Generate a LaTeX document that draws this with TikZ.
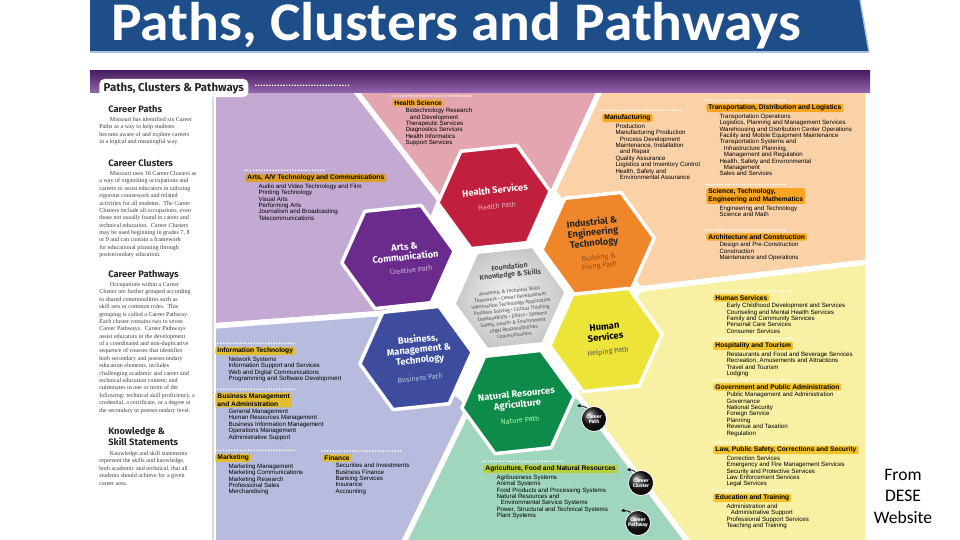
\documentclass[tikz,border=0pt]{standalone}
\usepackage{fontspec}
\setmainfont{Liberation Sans}
\newfontfamily\bannerfont{Carlito}
\newfontfamily\headfont{Fira Sans}
\newfontfamily\bodyserif{Liberation Serif}
\usetikzlibrary{positioning,arrows.meta,shapes.geometric,calc}

\definecolor{titleblue}{HTML}{1D4E89}
\definecolor{titleedge}{HTML}{A9C1E0}
\definecolor{hdrdark}{HTML}{4A1E62}
\definecolor{hdrpurple}{HTML}{9466AE}
\definecolor{lavender}{HTML}{C4AAD3}
\definecolor{rose}{HTML}{E3A5AF}
\definecolor{peach}{HTML}{FBD2A8}
\definecolor{lemon}{HTML}{F8F0A2}
\definecolor{mint}{HTML}{9FD6BD}
\definecolor{periwinkle}{HTML}{B7BBDD}
\definecolor{hexhealth}{HTML}{C01F3D}
\definecolor{hexindustry}{HTML}{F0862A}
\definecolor{hexarts}{HTML}{6A2B8D}
\definecolor{hexbusiness}{HTML}{3E4C9E}
\definecolor{hexhuman}{HTML}{EDE43A}
\definecolor{hexnature}{HTML}{0E8B4A}
\definecolor{tabgold}{HTML}{D9A02B}
\definecolor{tabrose}{HTML}{F0A935}
\definecolor{taborange}{HTML}{F6A623}
\definecolor{tabyellow}{HTML}{F3C32A}
\definecolor{tabblue}{HTML}{E3BD30}
\definecolor{tabgreen}{HTML}{B9CF3B}

\newcommand{\pwind}{\hspace*{2.5pt}}
\newcommand{\parind}{\hspace*{6pt}}

\tikzset{
  field/.style={fill=#1, draw=white, line width=1.1mm},
  hexcell/.style={regular polygon, regular polygon sides=6, minimum size=2.26cm, inner sep=0pt,
                  draw=white, line width=0.7mm, shape border rotate=6, fill=#1},
  hextitle/.style={align=center, rotate=6, inner sep=0pt, font=\headfont\bfseries\fontsize{5.3}{5.9}\selectfont},
  pathnote/.style={align=center, rotate=6, inner sep=0pt, text=#1, font=\headfont\fontsize{4.1}{4.8}\selectfont},
  cluster/.style={fill=#1, anchor=west, rounded corners=0.8pt, inner xsep=1.2pt, inner ysep=0.6pt,
                  align=left, font=\bfseries\fontsize{3.8}{4.3}\selectfont},
  pwlist/.style={anchor=north west, align=left, inner sep=0pt, font=\fontsize{3.5}{3.64}\selectfont},
  dotrow/.style={white, line width=1pt, dash pattern=on 0pt off 1.6pt, line cap=round},
  colhead/.style={anchor=north west, align=left, inner sep=0pt, text=black!85,
                  font=\headfont\bfseries\fontsize{5.3}{5.4}\selectfont},
  colbody/.style={anchor=north west, align=left, inner sep=0pt, text=black!75,
                  font=\bodyserif\fontsize{3.45}{4.2}\selectfont},
  cmark/.style={circle, minimum size=0.5cm, inner sep=0pt, ball color=black!90, draw=white, line width=0.4pt,
                text=white, align=center, font=\headfont\bfseries\fontsize{2.9}{3.1}\selectfont},
  cmarrow/.style={-{Stealth[length=2.2pt,width=2pt]}, line width=0.45pt, black}
}

\begin{document}
\begin{tikzpicture}[x=0.02cm, y=-0.02cm, line join=round]
\useasboundingbox (0,0) rectangle (960,540);
\fill[white] (0,0) rectangle (960,540);

% banner
\fill[titleblue] (90,0) -- (860,0) -- (869,52) -- (90,52) -- cycle;
\draw[titleedge, line width=0.8pt] (860,0) -- (869,52);
\draw[titleedge, line width=0.8pt] (90,52) -- (869,52);
\node[anchor=base west, inner sep=0pt, text=white, font=\bannerfont\bfseries\fontsize{31}{32}\selectfont] (banner) at (111,41) {\scalebox{1.055}[1]{Paths, Clusters and Pathways}};

% colour fields
\path[field=lavender] (213,86) -- (352,86) -- (440,200) -- (400,300) -- (388,313) -- (213,326) -- cycle;
\path[field=rose] (352,86) -- (602,86) -- (553,192) -- (520,240) -- (440,200) -- cycle;
\path[field=peach] (602,86) -- (868,86) -- (868,262) -- (640,289) -- (600,245) -- (553,192) -- cycle;
\path[field=lemon] (640,289) -- (868,262) -- (868,546) -- (691,546) -- (575,392) -- (600,340) -- cycle;
\path[field=mint] (470,405) -- (520,400) -- (575,392) -- (691,546) -- (402,546) -- cycle;
\path[field=periwinkle] (213,326) -- (388,313) -- (416,358) -- (470,405) -- (402,546) -- (213,546) -- cycle;

% header band and left column
\shade[top color=hdrdark, bottom color=hdrpurple] (90,71) rectangle (870,93);
\fill[white] (90,93) rectangle (212,540);
\draw[black!15, line width=0.6pt] (213,93) -- (213,540);
\node[fill=white, rounded corners=3pt, anchor=west, inner xsep=2.5pt, inner ysep=2pt, text=black!85,
      font=\headfont\bfseries\fontsize{6.5}{6.6}\selectfont] (tab) at (99,88) {Paths, Clusters \& Pathways};
\draw[dotrow] ([xshift=4pt, yshift=1.5pt]tab.east) -- ++(95,0);

% left column
\node[colhead] (hpaths) at (108,105) {Career Paths};
\node[colbody] (bpaths) at (99,117) {\parind Missouri has identified six Career\\Paths as a way to help students\\become aware of and explore careers\\in a logical and meaningful way.};
\node[colhead] (hclusters) at (108,159) {Career Clusters};
\node[colbody] (bclusters) at (99,171) {\parind Missouri uses 16 Career Clusters as\\a way of organizing occupations and\\careers to assist educators in tailoring\\rigorous coursework and related\\activities for all students.\ \ The Career\\Clusters include all occupations, even\\those not usually found in career and\\technical education.\ \ Career Clusters\\may be used beginning in grades 7, 8\\or 9 and can contain a framework\\for educational planning through\\postsecondary education.};
\node[colhead] (hpathways) at (108,270) {Career Pathways};
\node[colbody] (bpathways) at (99,282) {\parind Occupations within a Career\\Cluster are further grouped according\\to shared commonalities such as\\skill sets or common roles.\ \ This\\grouping is called a Career Pathway.\\Each cluster contains two to seven\\Career Pathways.\ \ Career Pathways\\assist educators in the development\\of a coordinated and non-duplicative\\sequence of courses that identifies\\both secondary and postsecondary\\education elements, includes\\challenging academic and career and\\technical education content; and\\culminates in one or more of the\\following: technical skill proficiency, a\\credential, a certificate, or a degree at\\the secondary or postsecondary level.};
\node[colhead] (hknow) at (108,427) {Knowledge \&\\Skill Statements};
\node[colbody] (bknow) at (99,451) {\parind Knowledge and skill statements\\represent the skills and knowledge,\\both academic and technical, that all\\students should achieve for a given\\career area.};

% honeycomb
\node[hexcell=hexhealth] (health) at (494,197) {};
\node[hexcell=hexindustry] (industry) at (598,244) {};
\node[hexcell=hexarts] (arts) at (398,257) {};
\node[hexcell=hexbusiness] (business) at (416,358) {};
\node[hexcell=hexhuman] (human) at (606,340) {};
\node[hexcell=hexnature] (nature) at (518,402) {};
\node[hexcell=white, inner color=gray!8, outer color=gray!45] (foundation) at (510,298) {};

\node[hextitle, text=white] (healthtitle) at (495,190) {Health Services};
\node[pathnote=hexhealth!35!white] (healthpath) at (497,206) {Health Path};
\node[hextitle, text=black!85] (industrytitle) at (593,233) {Industrial \&\\Engineering\\Technology};
\node[pathnote=hexindustry!60!black] (industrypath) at (599,262) {Building \&\\Fixing Path};
\node[hextitle, text=white] (artstitle) at (405,252) {Arts \&\\Communication};
\node[pathnote=hexarts!35!white] (artspath) at (411,270) {Creative Path};
\node[hextitle, text=white] (businesstitle) at (419,350) {Business,\\Management \&\\Technology};
\node[pathnote=hexbusiness!35!white] (businesspath) at (420,378) {Business Path};
\node[hextitle, text=black] (humantitle) at (605,332) {Human\\Services};
\node[pathnote=black!65] (humanpath) at (608,352) {Helping Path};
\node[hextitle, text=white] (naturetitle) at (517,400) {Natural Resources\\Agriculture};
\node[pathnote=green!35!white] (naturepath) at (520,420) {Nature Path};
\node[hextitle, text=black!70, font=\headfont\bfseries\fontsize{4}{4.4}\selectfont] (foundationtitle) at (510,271) {Foundation\\Knowledge \& Skills};
\node[hextitle, text=black!70, font=\headfont\fontsize{2.8}{3.6}\selectfont] (foundationskills) at (512,313) {Academic \& Technical Skills\\Teamwork \textbullet{} Career Development\\Information Technology Application\\Problem Solving \textbullet{} Critical Thinking\\Employability \textbullet{} Ethics \textbullet{} Systems\\Safety, Health \& Environment\\Legal Responsibilities\\Communication};

% clusters and pathways
\node[cluster=tabrose] (lblhealthsci) at (392,103) {Health Science};
\draw[dotrow] ([yshift=1.8pt]lblhealthsci.north west) -- ++(80,0);
\node[pwlist, below right=0.6pt and 7.5pt of lblhealthsci.south west] (pwhealthsci) {Biotechnology Research\\\pwind and Development\\Therapeutic Services\\Diagnostics Services\\Health Informatics\\Support Services};

\node[cluster=taborange] (lblmanuf) at (602,118) {Manufacturing};
\draw[dotrow] ([yshift=1.8pt]lblmanuf.north west) -- ++(80,0);
\node[pwlist, below right=0.6pt and 7.5pt of lblmanuf.south west] (pwmanuf) {Production\\Manufacturing Production\\\pwind Process Development\\Maintenance, Installation\\\pwind and Repair\\Quality Assurance\\Logistics and Inventory Control\\Health, Safety and\\\pwind Environmental Assurance};

\node[cluster=taborange] (lbltrans) at (706,108) {Transportation, Distribution and Logistics};
\draw[dotrow] ([yshift=1.8pt]lbltrans.north west) -- ++(80,0);
\node[pwlist, below right=0.6pt and 7.5pt of lbltrans.south west] (pwtrans) {Transportation Operations\\Logistics, Planning and Management Services\\Warehousing and Distribution Center Operations\\Facility and Mobile Equipment Maintenance\\Transportation Systems and\\\pwind Infrastructure Planning,\\\pwind Management and Regulation\\Health, Safety and Environmental\\\pwind Management\\Sales and Services};

\node[cluster=taborange] (lblstem) at (706,196) {Science, Technology,\\Engineering and Mathematics};
\draw[dotrow] ([yshift=1.8pt]lblstem.north west) -- ++(80,0);
\node[pwlist, below right=0.6pt and 7.5pt of lblstem.south west] (pwstem) {Engineering and Technology\\Science and Math};

\node[cluster=taborange] (lblarch) at (706,237) {Architecture and Construction};
\draw[dotrow] ([yshift=1.8pt]lblarch.north west) -- ++(80,0);
\node[pwlist, below right=0.6pt and 7.5pt of lblarch.south west] (pwarch) {Design and Pre-Construction\\Construction\\Maintenance and Operations};

\node[cluster=tabgold] (lblarts) at (245,178) {Arts, A/V Technology and Communications};
\draw[dotrow] ([yshift=1.8pt]lblarts.north west) -- ++(80,0);
\node[pwlist, below right=0.6pt and 7.5pt of lblarts.south west] (pwarts) {Audio and Video Technology and Film\\Printing Technology\\Visual Arts\\Performing Arts\\Journalism and Broadcasting\\Telecommunications};

\node[cluster=tabyellow] (lblhuman) at (713,298) {Human Services};
\draw[dotrow] ([yshift=1.8pt]lblhuman.north west) -- ++(80,0);
\node[pwlist, below right=0.6pt and 7.5pt of lblhuman.south west] (pwhuman) {Early Childhood Development and Services\\Counseling and Mental Health Services\\Family and Community Services\\Personal Care Services\\Consumer Services};

\node[cluster=tabyellow] (lblhosp) at (713,346) {Hospitality and Tourism};
\draw[dotrow] ([yshift=1.8pt]lblhosp.north west) -- ++(80,0);
\node[pwlist, below right=0.6pt and 7.5pt of lblhosp.south west] (pwhosp) {Restaurants and Food and Beverage Services\\Recreation, Amusements and Attractions\\Travel and Tourism\\Lodging};

\node[cluster=tabyellow] (lblgov) at (713,387) {Government and Public Administration};
\draw[dotrow] ([yshift=1.8pt]lblgov.north west) -- ++(80,0);
\node[pwlist, below right=0.6pt and 7.5pt of lblgov.south west] (pwgov) {Public Management and Administration\\Governance\\National Security\\Foreign Service\\Planning\\Revenue and Taxation\\Regulation};

\node[cluster=tabyellow] (lbllaw) at (713,450) {Law, Public Safety, Corrections and Security};
\draw[dotrow] ([yshift=1.8pt]lbllaw.north west) -- ++(80,0);
\node[pwlist, below right=0.6pt and 7.5pt of lbllaw.south west] (pwlaw) {Correction Services\\Emergency and Fire Management Services\\Security and Protective Services\\Law Enforcement Services\\Legal Services};

\node[cluster=tabyellow] (lbledu) at (713,498) {Education and Training};
\draw[dotrow] ([yshift=1.8pt]lbledu.north west) -- ++(80,0);
\node[pwlist, below right=0.6pt and 7.5pt of lbledu.south west] (pwedu) {Administration and\\\pwind Administrative Support\\Professional Support Services\\Teaching and Training};

\node[cluster=tabblue] (lblit) at (215,351) {Information Technology};
\draw[dotrow] ([yshift=1.8pt]lblit.north west) -- ++(80,0);
\node[pwlist, below right=0.6pt and 7.5pt of lblit.south west] (pwit) {Network Systems\\Information Support and Services\\Web and Digital Communications\\Programming and Software Development};

\node[cluster=tabblue] (lblbma) at (215,400) {Business Management\\and Administration};
\draw[dotrow] ([yshift=1.8pt]lblbma.north west) -- ++(80,0);
\node[pwlist, below right=0.6pt and 7.5pt of lblbma.south west] (pwbma) {General Management\\Human Resources Management\\Business Information Management\\Operations Management\\Administrative Support};

\node[cluster=tabblue] (lblmkt) at (215,458) {Marketing};
\draw[dotrow] ([yshift=1.8pt]lblmkt.north west) -- ++(80,0);
\node[pwlist, below right=0.6pt and 7.5pt of lblmkt.south west] (pwmkt) {Marketing Management\\Marketing Communications\\Marketing Research\\Professional Sales\\Merchandising};

\node[cluster=tabblue] (lblfin) at (322,458) {Finance};
\draw[dotrow] ([yshift=1.8pt]lblfin.north west) -- ++(80,0);
\node[pwlist, below right=0.6pt and 7.5pt of lblfin.south west] (pwfin) {Securities and Investments\\Business Finance\\Banking Services\\Insurance\\Accounting};

\node[cluster=tabgreen] (lblag) at (483,469) {Agriculture, Food and Natural Resources};
\draw[dotrow] ([yshift=1.8pt]lblag.north west) -- ++(80,0);
\node[pwlist, below right=0.6pt and 7.5pt of lblag.south west] (pwag) {Agribusiness Systems\\Animal Systems\\Food Products and Processing Systems\\Natural Resources and\\\pwind Environmental Service Systems\\Power, Structural and Technical Systems\\Plant Systems};

% key markers
\node[cmark] (cpath) at (594,419) {Career\\Path};
\node[cmark] (ccluster) at (641,483) {Career\\Cluster};
\node[cmark] (cpathway) at (638,523) {Career\\Pathway};
\coordinate (cpathtip) at (577,406);
\coordinate (cclustertip) at (627,470);
\coordinate (cpathwaytip) at (621,511);
\draw[cmarrow] (cpath) to[bend right=20] (cpathtip);
\draw[cmarrow] (ccluster) to[bend right=20] (cclustertip);
\draw[cmarrow] (cpathway) to[bend right=20] (cpathwaytip);

% source note
\node[align=center, inner sep=0pt, font=\bannerfont\fontsize{10}{12.2}\selectfont] (source) at (903,496) {From\\DESE\\Website};
\end{tikzpicture}
\end{document}
